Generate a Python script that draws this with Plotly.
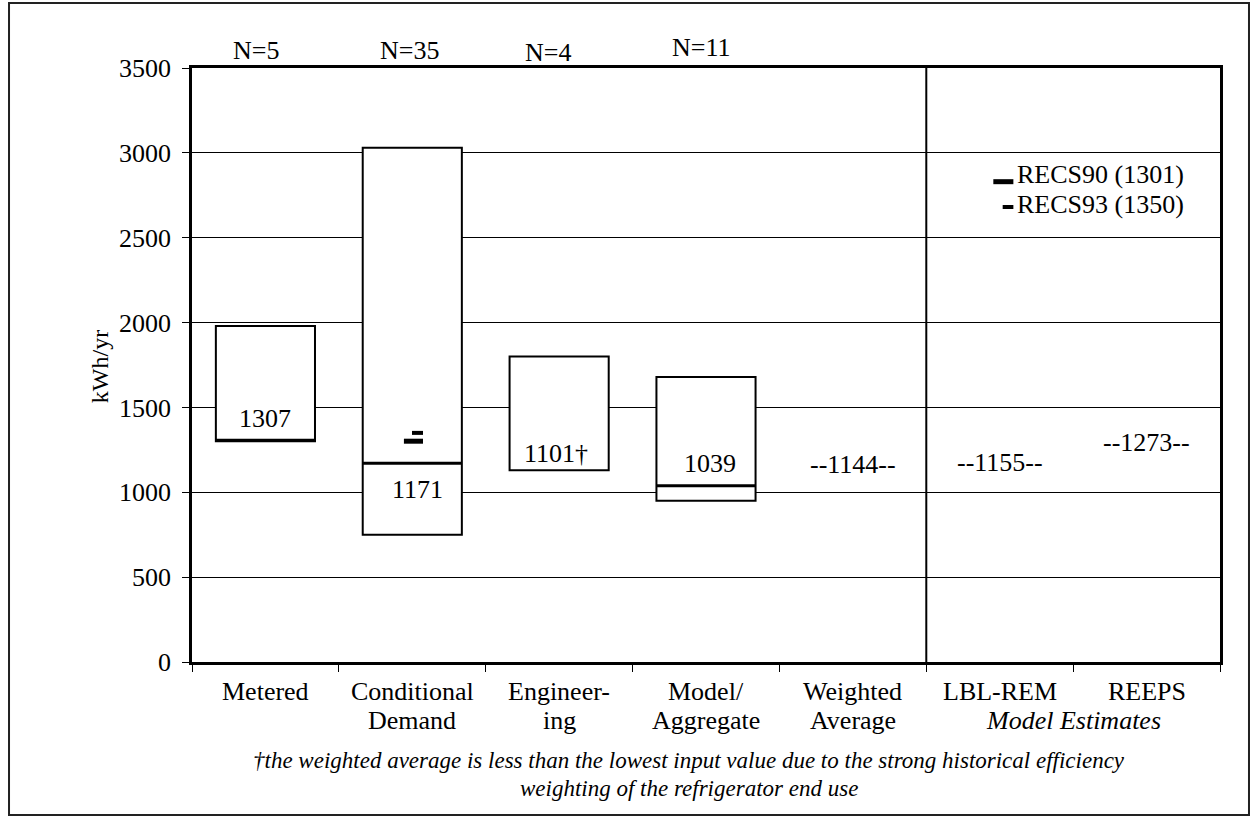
import plotly.graph_objects as go

# ---------------- data ----------------
categories = ["Metered", "Conditional<br>Demand", "Engineer-<br>ing", "Model/<br>Aggregate",
              "Weighted<br>Average", "LBL-REM", "REEPS"]
n_counts = [5, 35, 4, 11]                      # N for the first four study types
box_min = [1300, 750, 1130, 950]
box_max = [1980, 3030, 1800, 1680]
box_med = [1307, 1171, 1101, 1039]
med_labels = ["1307", "1171", "1101\u2020", "1039"]
point_values = [1144, 1155, 1273]             # Weighted Average, LBL-REM, REEPS
recs90 = 1301
recs93 = 1350
y_ticks = [0, 500, 1000, 1500, 2000, 2500, 3000, 3500]
footnote = ["<i>\u2020the weighted average is less than the lowest input value due to the strong historical efficiency</i>",
            "<i>weighting of the refrigerator end use</i>"]

# ---------------- styles ----------------
FONT = "Liberation Serif"
BOXW = 0.675
label_shift = [22, -26, 22, 22]
label_xshift = [0, 5, -3, 4]
n_xshift = [-9, -3, -11, -5]
n_yshift = [0, 0, -2, 3]

fig = go.Figure()
xs = list(range(len(box_min)))

# boxes (range bars)
fig.add_trace(go.Bar(
    x=xs, y=[hi - lo for lo, hi in zip(box_min, box_max)], base=box_min, width=BOXW,
    marker=dict(color="white", line=dict(color="black", width=2)),
    hoverinfo="skip", showlegend=False))

# medians (only drawn when inside the range)
for i, (lo, hi, m) in enumerate(zip(box_min, box_max, box_med)):
    if lo <= m <= hi:
        fig.add_trace(go.Scatter(x=[i - BOXW / 2, i + BOXW / 2], y=[m, m], mode="lines",
                                 line=dict(color="black", width=3), showlegend=False, hoverinfo="skip"))

# RECS marks inside Conditional Demand
fig.add_trace(go.Scatter(x=[1 - 0.057, 1 + 0.073], y=[recs90, recs90], mode="lines",
                         line=dict(color="black", width=5), showlegend=False, hoverinfo="skip"))
fig.add_trace(go.Scatter(x=[1 - 0.002, 1 + 0.073], y=[recs93, recs93], mode="lines",
                         line=dict(color="black", width=4), showlegend=False, hoverinfo="skip"))

annotations = []
# median labels
for i, (m, t) in enumerate(zip(box_med, med_labels)):
    annotations.append(dict(x=i, y=m, xref="x", yref="y", text=t, showarrow=False,
                            xanchor="center", yanchor="middle", yshift=label_shift[i], xshift=label_xshift[i],
                            font=dict(family=FONT, size=26, color="black")))
# single-value estimates
for j, v in enumerate(point_values):
    annotations.append(dict(x=len(box_min) + j, y=v, xref="x", yref="y", text=f"--{v}--",
                            showarrow=False, xanchor="center", yanchor="middle", yshift=3,
                            font=dict(family=FONT, size=26, color="black")))
# N labels
for i, n in enumerate(n_counts):
    annotations.append(dict(x=i, y=1.0303, xref="x", yref="paper", text=f"N={n}", showarrow=False,
                            xanchor="center", yanchor="middle", xshift=n_xshift[i], yshift=n_yshift[i],
                            font=dict(family=FONT, size=26, color="black")))
# category labels (two rows)
for i, c in enumerate(categories):
    parts = c.split("<br>")
    for r, p in enumerate(parts):
        annotations.append(dict(x=i, y=[-0.0505, -0.0993][r], xref="x", yref="paper", text=p,
                                showarrow=False, xanchor="center", yanchor="middle",
                                font=dict(family=FONT, size=26, color="black")))
annotations.append(dict(x=5.5, y=-0.0993, xref="x", yref="paper", text="<i>Model Estimates</i>",
                        showarrow=False, xanchor="center", yanchor="middle",
                        font=dict(family=FONT, size=26, color="black")))
# footnote
for k, line in enumerate(footnote):
    annotations.append(dict(x=0.4835, y=[-0.165, -0.2138][k], xref="paper", yref="paper", text=line,
                            showarrow=False, xanchor="center", yanchor="middle",
                            font=dict(family=FONT, size=23, color="black")))
# y title
annotations.append(dict(x=-0.0895, y=0.498, xref="paper", yref="paper", text="kWh/yr", textangle=-90,
                        showarrow=False, xanchor="center", yanchor="middle",
                        font=dict(family=FONT, size=24, color="black")))
# legend texts
annotations.append(dict(x=0.8006, y=0.8199, xref="paper", yref="paper", text=f"RECS90 ({recs90})",
                        showarrow=False, xanchor="left", yanchor="middle",
                        font=dict(family=FONT, size=26, color="black")))
annotations.append(dict(x=0.8006, y=0.7694, xref="paper", yref="paper", text=f"RECS93 ({recs93})",
                        showarrow=False, xanchor="left", yanchor="middle",
                        font=dict(family=FONT, size=26, color="black")))

shapes = [
    # separator between study types and model estimates
    dict(type="line", xref="x", yref="y", x0=len(box_min) + 0.5, x1=len(box_min) + 0.5,
         y0=y_ticks[0], y1=y_ticks[-1], line=dict(color="black", width=2)),
    # legend dashes
    dict(type="line", xref="paper", yref="paper", x0=0.7795, x1=0.799, y0=0.8086, y1=0.8086,
         line=dict(color="black", width=5)),
    dict(type="line", xref="paper", yref="paper", x0=0.7886, x1=0.799, y0=0.766, y1=0.766,
         line=dict(color="black", width=4)),
    # outer frame
    dict(type="rect", xref="paper", yref="paper", x0=-0.178, x1=1.0282, y0=-0.2576, y1=1.1094,
         line=dict(color="#222", width=2), fillcolor="rgba(0,0,0,0)", layer="below"),
]

fig.update_layout(
    width=1256, height=820,
    margin=dict(l=192, r=36, t=68, b=158),
    paper_bgcolor="white", plot_bgcolor="white",
    showlegend=False,
    font=dict(family=FONT, size=26, color="black"),
    annotations=annotations, shapes=shapes,
    xaxis=dict(range=[-0.5, len(categories) - 0.5], showgrid=False, zeroline=False,
               tickvals=list(range(len(categories))), ticktext=[""] * len(categories), ticks="",
               showline=True, linecolor="black", linewidth=2.5, mirror=True,
               minor=dict(tickvals=[i - 0.5 for i in range(len(categories) + 1)], ticks="outside",
                          ticklen=7, tickwidth=1, tickcolor="black", showgrid=False)),
    yaxis=dict(range=[y_ticks[0], y_ticks[-1]], tickvals=y_ticks, showgrid=True, gridcolor="black",
               gridwidth=1, zeroline=False, ticks="outside", ticklen=7, tickcolor="black",
               showline=True, linecolor="black", linewidth=2.5, mirror=True,
               tickfont=dict(family=FONT, size=26, color="black"), ticklabelstandoff=6),
)

fig.write_html("out.html", config={"displayModeBar": False},
               post_script="document.body.style.margin='0';")
